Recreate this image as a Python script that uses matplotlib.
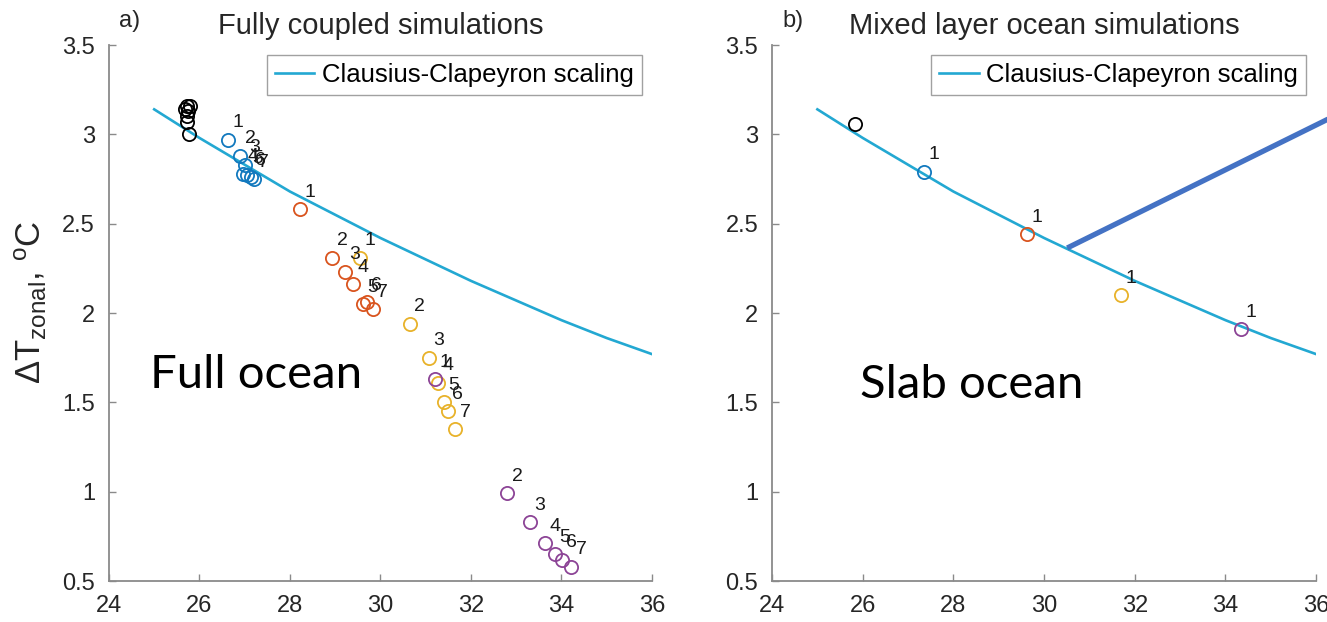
import matplotlib.pyplot as plt

# Clausius-Clapeyron scaling curve
cc_sst = [25, 26, 27, 28, 29, 30, 31, 32, 33, 34, 35, 36]
cc_dt = [3.14, 2.98, 2.83, 2.68, 2.55, 2.42, 2.30, 2.18, 2.07, 1.96, 1.86, 1.77]

# a) fully coupled simulations: control (black) + four groups of 7 runs
full_ctrl_sst = [25.72, 25.79, 25.68, 25.75, 25.72, 25.72, 25.77]
full_ctrl_dt = [3.16, 3.16, 3.14, 3.13, 3.10, 3.07, 3.00]

full_blue_sst = [26.64, 26.90, 27.01, 26.96, 27.06, 27.13, 27.20]
full_blue_dt = [2.97, 2.88, 2.83, 2.78, 2.77, 2.76, 2.75]
full_orange_sst = [28.22, 28.93, 29.22, 29.39, 29.61, 29.70, 29.83]
full_orange_dt = [2.58, 2.31, 2.23, 2.16, 2.05, 2.06, 2.02]
full_yellow_sst = [29.55, 30.65, 31.07, 31.27, 31.40, 31.49, 31.65]
full_yellow_dt = [2.31, 1.94, 1.75, 1.61, 1.50, 1.45, 1.35]
full_purple_sst = [31.20, 32.80, 33.30, 33.64, 33.86, 34.01, 34.21]
full_purple_dt = [1.63, 0.99, 0.83, 0.71, 0.65, 0.62, 0.58]
run_labels = ['1', '2', '3', '4', '5', '6', '7']

# b) mixed layer (slab) ocean simulations: control + one run per group
slab_ctrl_sst = [25.84]
slab_ctrl_dt = [3.06]
slab_sst = [27.36, 29.63, 31.70, 34.34]
slab_dt = [2.79, 2.44, 2.10, 1.91]
slab_labels = ['1', '1', '1', '1']

group_colors = ['#1279BE', '#D9541E', '#E8B22A', '#8C4496']
cc_color = '#23A8D2'

plt.rcParams['font.family'] = ['Liberation Sans', 'DejaVu Sans']
plt.rcParams['mathtext.default'] = 'regular'

fig = plt.figure(figsize=(13.27, 6.22), dpi=100)
ax1 = fig.add_axes([0.0821, 0.0659, 0.4092, 0.8617])
ax2 = fig.add_axes([0.5818, 0.0659, 0.4100, 0.8617])

def style_axes(ax, title, tag):
    ax.set_xlim(24, 36)
    ax.set_ylim(0.5, 3.5)
    ax.set_xticks([24, 26, 28, 30, 32, 34, 36])
    ax.set_yticks([0.5, 1, 1.5, 2, 2.5, 3, 3.5])
    ax.set_yticklabels(['0.5', '1', '1.5', '2', '2.5', '3', '3.5'])
    for s in ['top', 'right']:
        ax.spines[s].set_visible(False)
    for s in ['left', 'bottom']:
        ax.spines[s].set_color('#8a8a8a')
        ax.spines[s].set_linewidth(1.3)
    ax.tick_params(direction='in', length=5, width=1, color='#8a8a8a',
                   labelsize=17, labelcolor='#262626', pad=10)
    ax.set_title(title, fontsize=21, pad=8, color='#262626')
    ax.text(0.038, 1.045, tag, transform=ax.transAxes, fontsize=17,
            ha='center', va='center', color='#262626')
    ax.plot(cc_sst, cc_dt, color=cc_color, lw=1.9, label='Clausius-Clapeyron scaling')
    leg = ax.legend(loc='upper right', fontsize=18.5, frameon=True, fancybox=False,
                    handlelength=1.55, borderaxespad=0.4, borderpad=0.3,
                    handletextpad=0.3)
    leg.get_frame().set_edgecolor('#8a8a8a')
    leg.get_frame().set_linewidth(1.0)

def circles(ax, xs, ys, color, labels=None):
    ax.plot(xs, ys, 'o', mfc='none', mec=color, ms=9.5, mew=1.3, ls='none')
    if labels:
        for x, y, lab in zip(xs, ys, labels):
            ax.annotate(lab, (x, y), xytext=(10, 17), textcoords='offset pixels',
                        ha='center', va='center', fontsize=14, color='#1a1a1a')

# panel a
style_axes(ax1, 'Fully coupled simulations', 'a)')
circles(ax1, full_ctrl_sst, full_ctrl_dt, 'black')
circles(ax1, full_blue_sst, full_blue_dt, group_colors[0], run_labels)
circles(ax1, full_orange_sst, full_orange_dt, group_colors[1], run_labels)
circles(ax1, full_yellow_sst, full_yellow_dt, group_colors[2], run_labels)
circles(ax1, full_purple_sst, full_purple_dt, group_colors[3], run_labels)
ax1.set_ylabel(r'ΔT$_{zonal}$, $^{o}$C', fontsize=25, color='#262626')
ax1.yaxis.set_label_coords(-0.11, 0.52)

# panel b
style_axes(ax2, 'Mixed layer ocean simulations', 'b)')
circles(ax2, slab_ctrl_sst, slab_ctrl_dt, 'black')
for i in range(len(slab_sst)):
    circles(ax2, [slab_sst[i]], [slab_dt[i]], group_colors[i], [slab_labels[i]])

# slide annotations
fig.text(150 / 1327, 1 - 388 / 622, 'Full ocean', fontsize=34, family='Lato',
         va='baseline', ha='left', color='black')
fig.text(860 / 1327, 1 - 398 / 622, 'Slab ocean', fontsize=34, family='Lato',
         va='baseline', ha='left', color='black')
ax2.plot([30.51, 36.3], [2.364, 3.09], color='#4472C4', lw=3.8,
         solid_capstyle='butt', clip_on=False)

plt.savefig('out.png', dpi=100)
